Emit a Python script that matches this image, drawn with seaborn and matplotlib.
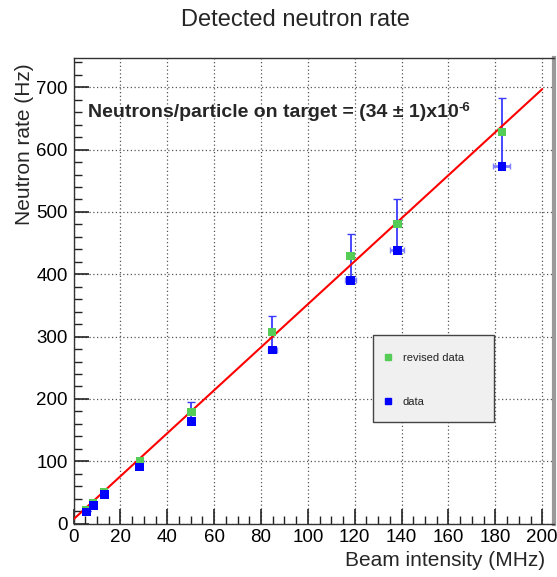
import numpy as np
import pandas as pd
import matplotlib
matplotlib.use("Agg")
import matplotlib.pyplot as plt
from matplotlib.lines import Line2D
from matplotlib.patches import Rectangle
from matplotlib.ticker import MultipleLocator
import seaborn as sns

# Beam intensity (MHz) and measured neutron rates (Hz)
beam = [5.6, 8.4, 13.1, 28.3, 50.3, 84.8, 118.2, 138.2, 182.8]
rate_data = [18.6, 29.0, 47.0, 91.0, 163.6, 278.6, 390.5, 438.7, 573.5]
beam_err = [0.0, 0.0, 0.0, 0.0, 0.0, 2.0, 2.5, 3.0, 3.6]
rate_revised = [21.0, 33.5, 51.0, 101.0, 179.6, 307.0, 429.4, 481.0, 628.0]
revised_err = [0.0, 0.0, 0.0, 0.0, 15.0, 26.0, 35.0, 40.5, 55.0]

# Linear fit of the revised data
fit_range = [0.0, 200.0]
fit_slope = 3.45
fit_offset = 7.0

df = pd.DataFrame({"beam": beam, "data": rate_data, "revised": rate_revised})
fit_df = pd.DataFrame({"beam": fit_range})
fit_df["rate"] = fit_slope * fit_df["beam"] + fit_offset

sns.set_theme(style="white")
plt.rcParams["font.family"] = ["Liberation Sans", "DejaVu Sans"]

fig = plt.figure(figsize=(5.57, 5.77), dpi=100)
ax = fig.add_axes([0.132, 0.0925, 0.8625, 0.807])

green = "#55cc55"
blue = "#0000ff"

# error bars: vertical on revised points, horizontal on data points
ax.errorbar(beam, rate_revised, yerr=revised_err, fmt="none", ecolor="#3a3aff",
            elinewidth=1.3, capsize=3, capthick=1.0, zorder=2)
ax.errorbar(beam, rate_data, xerr=beam_err, fmt="none", ecolor="#8080ff",
            elinewidth=2.0, capsize=2.5, capthick=1.0, zorder=2)

sns.lineplot(data=fit_df, x="beam", y="rate", color="#ff0000", linewidth=1.5,
             ax=ax, zorder=3)
sns.scatterplot(data=df, x="beam", y="revised", marker="s", color=green, s=36,
                edgecolor="none", ax=ax, zorder=4)
sns.scatterplot(data=df, x="beam", y="data", marker="s", color=blue, s=40,
                edgecolor="none", ax=ax, zorder=5)

ax.set_xlim(0, 205)
ax.set_ylim(0, 747)
ax.xaxis.set_major_locator(MultipleLocator(20))
ax.xaxis.set_minor_locator(MultipleLocator(5))
ax.yaxis.set_major_locator(MultipleLocator(100))
ax.yaxis.set_minor_locator(MultipleLocator(20))

ax.tick_params(axis="both", which="both", direction="in", colors="#222222",
               labelcolor="black", labelsize=13.5)
ax.tick_params(axis="both", which="major", length=11, width=1.2, pad=4)
ax.tick_params(axis="both", which="minor", length=6, width=1.0)
ax.tick_params(axis="x", which="both", bottom=True, top=False)
ax.tick_params(axis="y", which="both", left=True, right=False)

ax.grid(True, which="major", color="#555555", linestyle=(0, (1, 2)), linewidth=0.9)
ax.set_axisbelow(True)

for side in ["left", "bottom", "top"]:
    ax.spines[side].set_color("#333333")
    ax.spines[side].set_linewidth(1.0)
ax.spines["right"].set_color("#999999")
ax.spines["right"].set_linewidth(3.0)

ax.set_xlabel("Beam intensity (MHz)", fontsize=15, ha="right")
ax.xaxis.set_label_coords(0.982, -0.058)
ax.set_ylabel("Neutron rate (Hz)", fontsize=15, ha="right")
ax.yaxis.set_label_coords(-0.083, 0.989)
fig.suptitle("Detected neutron rate", fontsize=17, x=0.5305, y=0.985)

# fit result, with the exponent as a raised label after the main text
result = ax.text(0.03, 0.884, "Neutrons/particle on target = (34 \u00b1 1)x10",
                 transform=ax.transAxes, fontsize=14, fontweight="bold",
                 va="center")
ax.annotate("-6", xy=(1.0, 0.58), xycoords=result, fontsize=9.5,
            fontweight="bold", ha="left", va="baseline")

# legend box with its entries
ax.add_patch(Rectangle((0.624, 0.2176), 0.252, 0.1875, transform=ax.transAxes,
                       facecolor="#f0f0f0", edgecolor="#444444", linewidth=1.0,
                       zorder=6))
handles = [
    Line2D([], [], marker="s", linestyle="none", color=green, markersize=5),
    Line2D([], [], marker="s", linestyle="none", color=blue, markersize=5),
]
leg = ax.legend(handles, ["revised data", "data"], loc="upper left",
                bbox_to_anchor=(0.6424, 0.3662), fontsize=8, frameon=False,
                borderpad=0, borderaxespad=0, labelspacing=3.02,
                handlelength=1.0, handletextpad=0.86)
leg.set_zorder(7)
for t in leg.get_texts():
    t.set_color("#222222")

fig.savefig("out.png", dpi=100, facecolor="white")
